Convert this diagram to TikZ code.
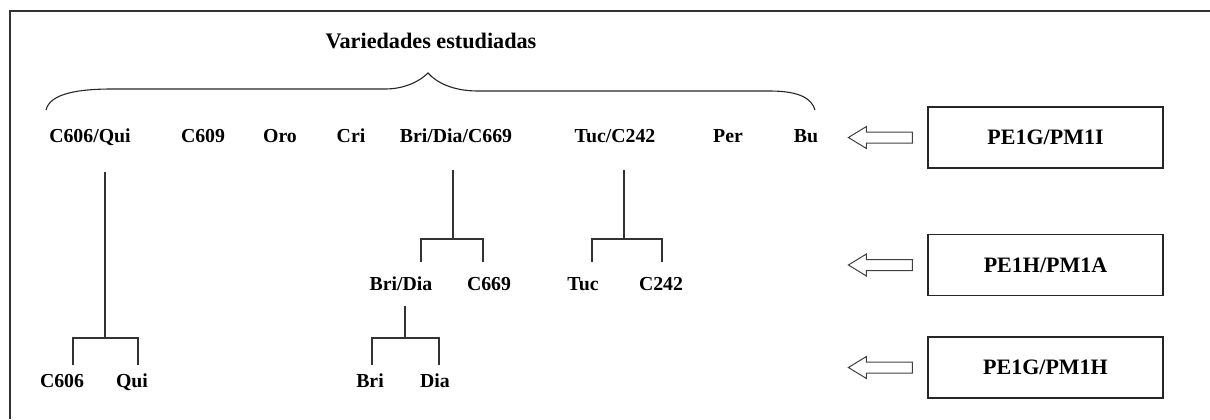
\documentclass[tikz,border=0pt]{standalone}
\usepackage{fontspec}
\setmainfont{Liberation Serif}
\begin{document}
\begin{tikzpicture}[x=0.5pt,y=-0.5pt,
    lbl/.style={font=\bfseries\fontsize{9.9}{12}\selectfont,anchor=base,inner sep=0pt},
    boxlbl/.style={draw=black!85,line width=0.6pt,font=\bfseries\fontsize{11}{13}\selectfont,
        minimum width=117.5pt,minimum height=30.5pt,inner sep=0pt},
    tree/.style={draw=black!80,line width=0.55pt},
    hollow/.style={draw=black!75,line width=0.5pt}]
    \useasboundingbox (0,0) rectangle (1210,419);
    %\draw[help lines] (0,0) grid (1210,419);
    \draw[black!80,line width=0.7pt] (10,419) -- (10,11) -- (1210,11);
    % title and brace
    \node[lbl,font=\bfseries\fontsize{11.1}{13}\selectfont] (title) at (431,48) {Variedades estudiadas};
    \draw[black!85,line width=0.55pt] (46,110) .. controls (50,93) and (80,89) .. (112,89)
        -- (385,89) .. controls (405,89) and (420,81) .. (428,73)
        .. controls (436,82) and (452,91) .. (478,91)
        -- (770,91) .. controls (800,91) and (812,99) .. (815,110);
    % first row
    \node[lbl] (cq) at (90,142) {C606/Qui};
    \node[lbl] (c609) at (203,142) {C609};
    \node[lbl] (oro) at (280,142) {Oro};
    \node[lbl] (cri) at (351,142) {Cri};
    \node[lbl] (bdc) at (456,142) {Bri/Dia/C669};
    \node[lbl] (tc) at (615,142) {Tuc/C242};
    \node[lbl] (per) at (728,142) {Per};
    \node[lbl] (bu) at (806,142) {Bu};
    % second row
    \node[lbl] (bd) at (401,290) {Bri/Dia};
    \node[lbl] (c669) at (489,290) {C669};
    \node[lbl] (tuc) at (583,290) {Tuc};
    \node[lbl] (c242) at (661,290) {C242};
    % third row
    \node[lbl] (c606) at (62,387) {C606};
    \node[lbl] (qui) at (132,387) {Qui};
    \node[lbl] (bri) at (370,387) {Bri};
    \node[lbl] (dia) at (435,387) {Dia};
    % splits
    \draw (105,172) coordinate(cqtop) (105,338) coordinate(cqj);
    \draw (453,170) coordinate(bdctop) (453,239) coordinate(bdcj);
    \draw (624,170) coordinate(tctop) (624,239) coordinate(tcj);
    \draw (405,306) coordinate(bdtop) (405,338) coordinate(bdj);
    \draw[tree] (cqtop) -- (cqj);
    \draw[tree] (73,365) -- (73,338) -- (138,338) -- (138,365);
    \draw[tree] (bdctop) -- (bdcj);
    \draw[tree] (421,262) -- (421,239) -- (483,239) -- (483,262);
    \draw[tree] (tctop) -- (tcj);
    \draw[tree] (592,262) -- (592,239) -- (662,239) -- (662,262);
    \draw[tree] (bdtop) -- (bdj);
    \draw[tree] (372,365) -- (372,338) -- (439,338) -- (439,365);
    % markers
    \node[boxlbl] (m1) at (1045.5,137.5) {PE1G/PM1I};
    \node[boxlbl] (m2) at (1045.5,265) {PE1H/PM1A};
    \node[boxlbl] (m3) at (1045.5,367.5) {PE1G/PM1H};
    \foreach \m in {m1,m2,m3}
        \draw[hollow] (\m.west) ++(-15,-5.5) -- ++(-46,0) -- ++(0,-5.5) -- ++(-18,11)
            -- ++(18,11) -- ++(0,-5.5) -- ++(46,0) -- cycle;
\end{tikzpicture}
\end{document}
